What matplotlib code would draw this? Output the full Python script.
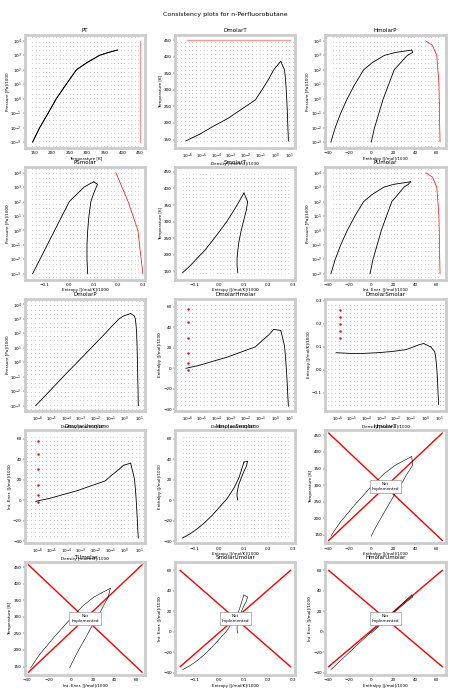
import numpy as np
import matplotlib
matplotlib.use("Agg")
import matplotlib.pyplot as plt

# saturation data (read approximately)
T_sat = [146, 166, 190, 213, 241, 270, 300, 335, 360, 386.3]
logp_sat = [-3, -2, -1, 0, 1, 2, 2.5, 3, 3.2, 3.37]
rhoL = [8.3, 8.0, 7.6, 7.3, 6.9, 6.4, 5.9, 5.2, 4.5, 2.5]
rhoV = [8e-7, 7e-6, 6e-5, 5.6e-4, 5e-3, 4.6e-2, 0.13, 0.4, 0.8, 2.5]
hL = [-37, -33, -28, -22, -15, -7, 1, 12, 22, 37]
hV = [0, 3, 7, 11, 16, 21, 27, 33, 38, 37]
sL = [-0.15, -0.12, -0.09, -0.06, -0.03, 0.0, 0.03, 0.06, 0.08, 0.10]
sV = [0.075, 0.072, 0.072, 0.075, 0.08, 0.088, 0.098, 0.11, 0.115, 0.10]
uL = [-37, -33, -28, -22, -15, -7, 1, 11.5, 21, 36]
uV = [-1.2, 1.6, 5.4, 9.2, 14, 18.8, 24.5, 30, 34, 36]

p_sat = [10 ** v for v in logp_sat]
data = {"T": T_sat, "P": p_sat, "D": None, "H": (hL, hV), "S": (sL, sV), "U": (uL, uV)}

lab = {"T": "Temperature [K]", "P": "Pressure [Pa]/1000", "D": "Density [mol/m3]/1000",
       "H": "Enthalpy [J/mol]/1000", "S": "Entropy [J/mol/K]/1000", "U": "Int. Ener. [J/mol]/1000"}
lim = {"T": (125, 465), "P": (4e-4, 2.5e4), "D": (1.5e-7, 25), "H": (-42, 68),
       "S": (-0.18, 0.31), "U": (-42, 68)}
logax = {"P", "D"}


def curves(k):
    if k == "T":
        return T_sat, T_sat
    if k == "P":
        return p_sat, p_sat
    if k == "D":
        return rhoL, rhoV
    return data[k]


panels = [("PT", "T", "P", False), ("DmolarT", "D", "T", False), ("HmolarP", "H", "P", False),
          ("PSmolar", "S", "P", False), ("SmolarT", "S", "T", False), ("PUmolar", "U", "P", False),
          ("DmolarP", "D", "P", False), ("DmolarHmolar", "D", "H", False), ("DmolarSmolar", "D", "S", False),
          ("DmolarUmolar", "D", "U", False), ("HmolarSmolar", "S", "H", False), ("HmolarT", "H", "T", True),
          ("TUmolar", "U", "T", True), ("SmolarUmolar", "S", "U", True), ("HmolarUmolar", "H", "U", True)]

fig, axes = plt.subplots(5, 3, figsize=(4.5, 6.9), dpi=100)
fig.subplots_adjust(left=0.056, right=0.99, top=0.949, bottom=0.022, wspace=0.25, hspace=0.17)
fig.suptitle("Consistency plots for n-Perfluorobutane", fontsize=4.5, y=0.982)

for ax, (title, xk, yk, ni) in zip(axes.flat, panels):
    ax.set_title(title, fontsize=4, pad=2)
    if xk in logax:
        ax.set_xscale("log")
    if yk in logax:
        ax.set_yscale("log")
    ax.set_xlim(*lim[xk])
    ax.set_ylim(*lim[yk])
    ax.set_xlabel(lab[xk], fontsize=3, labelpad=1)
    ax.set_ylabel(lab[yk], fontsize=3, labelpad=1)
    ax.tick_params(labelsize=3, length=1.5, width=0.3, pad=1)
    for sp in ax.spines.values():
        sp.set_color("#cccccc")
        sp.set_linewidth(2)
    if yk == "P":
        ax.set_yticks([10.0 ** i for i in range(-3, 5)])
        ax.minorticks_off()
    if xk == "D":
        ax.set_xticks([10.0 ** i for i in range(-6, 2)])
        ax.xaxis.set_minor_locator(matplotlib.ticker.NullLocator())
    xa, xb = curves(xk)
    ya, yb = curves(yk)
    if not ni:
        # background grid of state points
        def g(k, n):
            a, b = lim[k]
            if k in logax:
                return np.logspace(np.log10(a) + 0.15, np.log10(b) - 0.15, n)
            return np.linspace(a + 0.06 * (b - a), b - 0.06 * (b - a), n)
        gx, gy = np.meshgrid(g(xk, 32), g(yk, 26))
        ax.plot(gx.ravel(), gy.ravel(), ls="none", marker=".", ms=0.6, color="0.35", mew=0)
        ax.plot(xa, ya, color="k", lw=0.6)
        ax.plot(xb, yb, color="k", lw=0.6)
        if yk == "T" or xk == "T":
            pass
        if title in ("PT",):
            ax.plot([450, 450], [1e-3, 1e4], color="red", lw=1, alpha=0.4)
        if title in ("DmolarT",):
            ax.plot([1e-6, 10], [450, 450], color="red", lw=1, alpha=0.4)
        if title in ("HmolarP", "PUmolar"):
            ax.plot([50, 56, 60, 62, 63], [1e4, 5e3, 1e3, 1e1, 1e-3], color="red", lw=0.5)
        if title in ("PSmolar",):
            ax.plot([0.19, 0.24, 0.28, 0.3], [1e4, 1e2, 1e0, 1e-3], color="red", lw=0.5)
        if title in ("DmolarHmolar", "DmolarUmolar"):
            ax.plot([1.2e-6] * 6, [58, 45, 30, 15, 5, -2], ls="none", marker=".", ms=1.5, color="red")
        if title in ("DmolarSmolar",):
            ax.plot([1.5e-6] * 5, [0.26, 0.23, 0.2, 0.17, 0.14], ls="none", marker=".", ms=1.5, color="red")
    else:
        x0, x1 = lim[xk]
        y0, y1 = lim[yk]
        ax.plot([x0 + 3 if xk != "S" else x0 + 0.02, x1 - 3 if xk != "S" else x1 - 0.02],
                [y0 + 8, y1 - 8], color="red", lw=1)
        ax.plot([x0 + 3 if xk != "S" else x0 + 0.02, x1 - 3 if xk != "S" else x1 - 0.02],
                [y1 - 8, y0 + 8], color="red", lw=1)
        ax.plot(xa, ya, color="k", lw=0.4)
        ax.plot(xb, yb, color="k", lw=0.4)
        ax.text(0.5, 0.5, "Not\nImplemented", transform=ax.transAxes, ha="center", va="center",
                fontsize=3, bbox=dict(facecolor="white", edgecolor="0.6", lw=0.5, pad=1.5))

fig.savefig("out.png", dpi=100)
